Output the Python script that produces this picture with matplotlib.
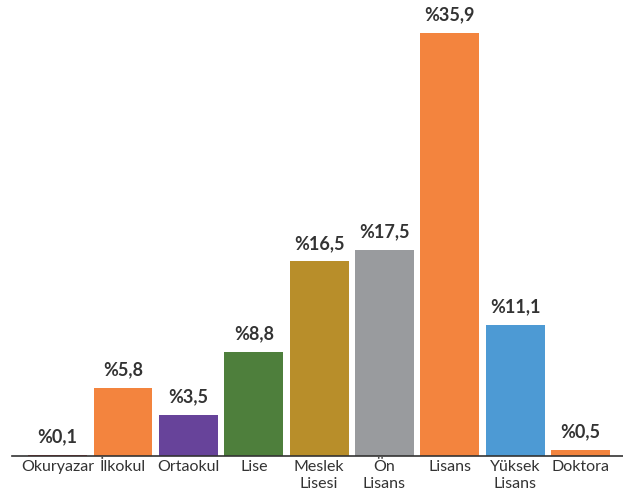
import matplotlib.pyplot as plt

categories = ["Okuryazar", "İlkokul", "Ortaokul", "Lise", "Meslek\nLisesi",
              "Ön\nLisans", "Lisans", "Yüksek\nLisans", "Doktora"]
values = [0.1, 5.8, 3.5, 8.8, 16.5, 17.5, 35.9, 11.1, 0.5]
colors = ["#c0282d", "#f3843e", "#67439a", "#4e7f3c", "#b88e2a",
          "#999b9e", "#f3843e", "#4d9ad4", "#f3843e"]

plt.rcParams['font.family'] = ['Lato', 'DejaVu Sans']

fig = plt.figure(figsize=(6.23, 4.98), dpi=100)
ax = fig.add_axes([12 / 623, 42 / 498, 1 - 12 / 623, (456 - 8) / 498])

x = range(len(values))
ax.bar(x, values, width=0.9, color=colors)
ax.set_xlim(-0.7, 8.65)
ax.set_ylim(0, 38)

for i, v in zip(x, values):
    ax.annotate("%" + f"{v:.1f}".replace(".", ","), (i, v),
                xytext=(0, 7), textcoords="offset points",
                ha="center", va="bottom", fontsize=13, fontweight="bold",
                color="#333333")

ax.set_xticks(list(x))
ax.set_xticklabels(categories, fontsize=11.5, color="#333333", linespacing=1.25)
ax.tick_params(axis="x", length=0, pad=3)
ax.set_yticks([])
for s in ["top", "right", "left"]:
    ax.spines[s].set_visible(False)
ax.spines["bottom"].set_color("#333333")
ax.spines["bottom"].set_linewidth(1.2)

fig.savefig("out.png", dpi=100)
